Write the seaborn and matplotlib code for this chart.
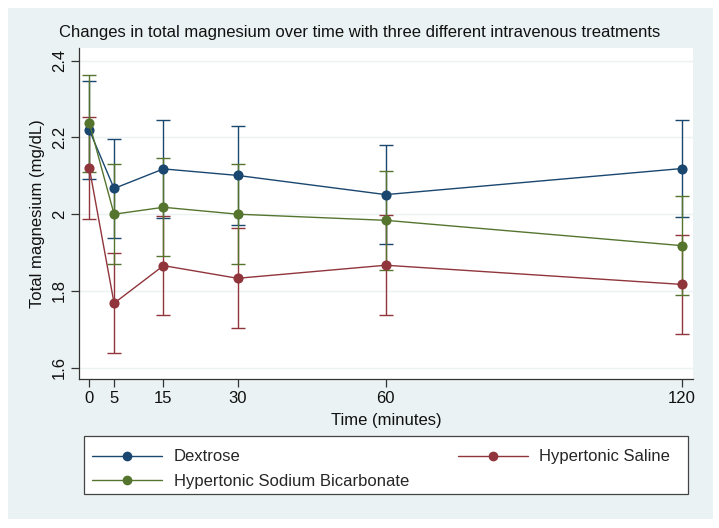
import numpy as np
import pandas as pd
import matplotlib
matplotlib.use("Agg")
import matplotlib.pyplot as plt
from matplotlib.lines import Line2D
from matplotlib.patches import Rectangle
import seaborn as sns

# values
times = [0, 5, 15, 30, 60, 120]
treatments = ["Dextrose", "Hypertonic Saline", "Hypertonic Sodium Bicarbonate"]
dextrose_mean = [2.219, 2.067, 2.118, 2.101, 2.051, 2.119]
dextrose_err = [0.128, 0.129, 0.128, 0.130, 0.129, 0.127]
saline_mean = [2.120, 1.768, 1.866, 1.833, 1.867, 1.817]
saline_err = [0.133, 0.130, 0.129, 0.130, 0.130, 0.130]
bicarb_mean = [2.237, 2.000, 2.018, 2.000, 1.984, 1.918]
bicarb_err = [0.126, 0.130, 0.128, 0.130, 0.129, 0.129]
y_ticks = [1.6, 1.8, 2.0, 2.2, 2.4]
y_ticklabels = ["1.6", "1.8", "2", "2.2", "2.4"]

colors = {"Dextrose": "#1a476f",
          "Hypertonic Saline": "#90353b",
          "Hypertonic Sodium Bicarbonate": "#55752f"}

df = pd.DataFrame({
    "time": times * 3,
    "mg": dextrose_mean + saline_mean + bicarb_mean,
    "err": dextrose_err + saline_err + bicarb_err,
    "treatment": [t for t in treatments for _ in times],
})

sns.set_style("white")
plt.rcParams["font.family"] = ["Liberation Sans", "DejaVu Sans"]
FS = 12

W, H = 719, 528
fig = plt.figure(figsize=(W / 100, H / 100), dpi=100, facecolor="white")
# light bluish graph region behind everything
fig.patches.append(Rectangle((8 / W, 1 - 519 / H), (713 - 8) / W, (519 - 8) / H,
                             transform=fig.transFigure, facecolor="#eaf2f3",
                             edgecolor="none", zorder=-10))
ax = fig.add_axes([79 / W, 1 - 379 / H, (693 - 79) / W, (379 - 48) / H])
ax.set_facecolor("white")

# error bars first, lines and markers on top
for name in treatments:
    sub = df[df.treatment == name]
    ax.errorbar(sub.time, sub.mg, yerr=sub.err, fmt="none",
                ecolor=colors[name], elinewidth=1.0, capsize=5, capthick=1.0,
                zorder=2)

sns.lineplot(data=df, x="time", y="mg", hue="treatment", hue_order=treatments,
             palette=colors, marker="o", markersize=7.3, markeredgewidth=0,
             linewidth=1.0, errorbar=None, legend=False, ax=ax, zorder=3)

ax.set_xlim(-2.1, 122.2)
ax.set_ylim(1.5706, 2.433)
ax.set_xticks(times)
ax.set_xticklabels([str(t) for t in times], fontsize=FS)
ax.set_yticks(y_ticks)
ax.set_yticklabels(y_ticklabels, fontsize=FS, rotation=90, va="center")
ax.yaxis.grid(True, color="#eaf2f3", linewidth=1.0)
ax.xaxis.grid(False)
ax.set_axisbelow(True)
ax.tick_params(axis="both", direction="out", length=5.5, width=0.9,
               color="#333333", labelcolor="#111111", pad=3)
ax.tick_params(axis="y", left=True)
ax.tick_params(axis="x", bottom=True)
for side in ["top", "right"]:
    ax.spines[side].set_visible(False)
for side in ["left", "bottom"]:
    ax.spines[side].set_color("#333333")
    ax.spines[side].set_linewidth(0.9)

ax.set_xlabel("Time (minutes)", fontsize=FS, color="#111111", labelpad=5)
ax.set_ylabel("Total magnesium (mg/dL)", fontsize=FS, color="#111111", labelpad=5)
fig.text(0.5, 1 - 33 / H, "Changes in total magnesium over time with three different intravenous treatments",
         ha="center", va="center", fontsize=FS, color="#111111")

# legend frame drawn separately so it can span the full width like Stata's
fig.patches.append(Rectangle((84 / W, 1 - 494 / H), (688 - 84) / W, (494 - 436) / H,
                             transform=fig.transFigure, facecolor="white",
                             edgecolor="#444444", linewidth=0.9, zorder=1))
handles = {name: Line2D([], [], color=colors[name], linewidth=1.0, marker="o",
                        markersize=7, markeredgewidth=0) for name in treatments}
order = ["Dextrose", "Hypertonic Sodium Bicarbonate", "Hypertonic Saline"]
leg = fig.legend([handles[n] for n in order], order, ncol=2,
                 loc="upper left", bbox_to_anchor=(84 / W, 1 - 441 / H),
                 fontsize=FS, frameon=False, handlelength=4.2,
                 handletextpad=0.7, labelspacing=0.57, borderpad=0.5,
                 columnspacing=2.9, borderaxespad=0)
leg.set_zorder(5)

fig.savefig("out.png", dpi=100, facecolor="white")
